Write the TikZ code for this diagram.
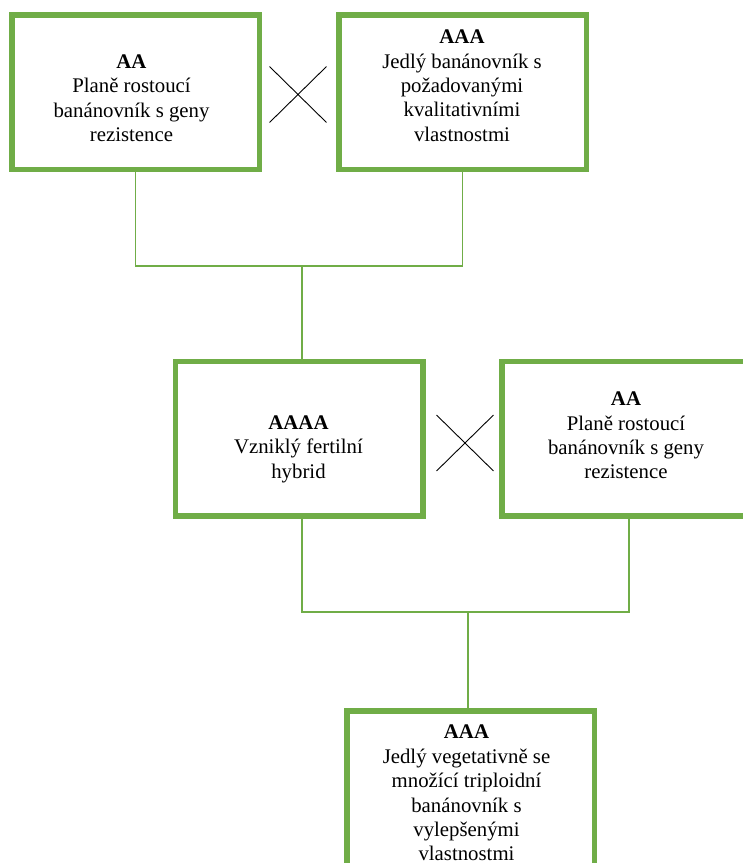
\documentclass[tikz,border=0pt]{standalone}
\usepackage{fontspec}
\setmainfont{Liberation Serif}
\usetikzlibrary{shapes.misc}
\definecolor{leafgreen}{HTML}{70AD47}
\tikzset{
  plant/.style={draw=leafgreen, line width=5.5pt, minimum width=247.5pt, minimum height=154.5pt, inner sep=0pt},
  plantname/.style={align=center, inner sep=0pt, font=\fontsize{20.8}{24.4}\selectfont},
  crossing/.style={draw, cross out, line width=0.9pt, minimum width=56pt, minimum height=55pt, inner sep=0pt},
  link/.style={draw=leafgreen, line width=1.1pt}
}
\begin{document}
\begin{tikzpicture}[x=1pt,y=-1pt]
      \clip (0,0) rectangle (743,863);

      \node (aa)   [plant] at (135.5,92)  {};
      \node (aaa)  [plant] at (462.5,92)  {};
      \node (hyb)  [plant] at (299,438.5) {};
      \node (aa2)  [plant] at (625.5,438.5) {};
      \node (trip) [plant] at (470.5,788) {};

      \node (aa-t)   [plantname] at (131.5,100.1) {\textbf{AA}\strut\\Planě rostoucí\strut\\banánovník s geny\strut\\rezistence\strut};
      \node (aaa-t)  [plantname] at (462,87.6) {\textbf{AAA}\strut\\Jedlý banánovník s\strut\\požadovanými\strut\\kvalitativními\strut\\vlastnostmi\strut};
      \node (hyb-t)  [plantname] at (298.5,449.1) {\textbf{AAAA}\strut\\Vzniklý fertilní\strut\\hybrid\strut};
      \node (aa2-t)  [plantname] at (626,437.4) {\textbf{AA}\strut\\Planě rostoucí\strut\\banánovník s geny\strut\\rezistence\strut};
      \node (trip-t) [plantname] at (466.5,795.1) {\textbf{AAA}\strut\\Jedlý vegetativně se\strut\\množící triploidní\strut\\banánovník s\strut\\vylepšenými\strut\\vlastnostmi\strut};

      \node (x1) [crossing] at (298,94.5) {};
      \node (x2) [crossing] at (465,443) {};

      \coordinate (j1) at (302,266);
      \coordinate (j2) at (468,612);

      \draw [link] (aa.south) |- (j1) -| (aaa.south);
      \draw [link] (j1) -- (j1 |- hyb.north);
      \draw [link] (j1 |- hyb.south) |- (j2) -| ([xshift=3.5pt]aa2.south);
      \draw [link] (j2) -- (j2 |- trip.north);
    \end{tikzpicture}
\end{document}
